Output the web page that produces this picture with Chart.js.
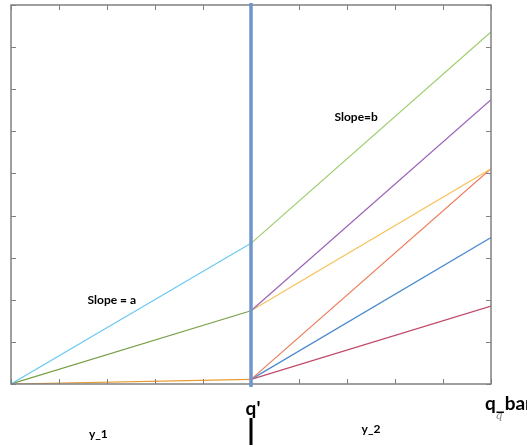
<!DOCTYPE html>
<html>
<head>
<meta charset="utf-8">
<script src="https://cdn.jsdelivr.net/npm/chart.js@4.4.0/dist/chart.umd.min.js"></script>
<style>
  html, body { margin: 0; padding: 0; background: #fff; }
  #wrap { width: 527px; height: 447px; position: relative; }
</style>
</head>
<body>
<div id="wrap"><canvas id="myChart"></canvas></div>
<script>
// x positions: origin, the kink at q', the end q_bar
const qStart = 0, qKink = 5, qEnd = 10;

// values at the kink (left pieces end here) and at the right edge
const skyLeft = [0, 3.34];
const greenRight = [3.34, 8.36];
const oliveLeft = [0, 1.74];
const purpleRight = [1.74, 6.75];
const yellowRight = [1.74, 5.11];
const orangeLeft = [0, 0.11];
const redRight = [0.11, 5.11];
const blueRight = [0.11, 3.48];
const crimsonRight = [0.11, 1.85];

const xTicks = [0, 1, 2, 3, 4, 5, 6, 7, 8, 9, 10];
const yTicks = [0, 1, 2, 3, 4, 5, 6, 7, 8, 9];

const slopeLabels = ['Slope = a', 'Slope=b'];
const axisLabels = ["q'", 'q_bar', 'y_1', 'y_2'];

function seg(vals, left) {
    return left
        ? [{ x: qStart, y: vals[0] }, { x: qKink, y: vals[1] }]
        : [{ x: qKink, y: vals[0] }, { x: qEnd, y: vals[1] }];
}

function line(vals, left, color) {
    return {
        data: seg(vals, left),
        borderColor: color,
        borderWidth: 1.2,
        pointRadius: 0,
        tension: 0,
        fill: false
    };
}

const data = {
    datasets: [
        line(skyLeft, true, '#6ccaf2'),
        line(greenRight, false, '#9ccc6a'),
        line(oliveLeft, true, '#78a048'),
        line(purpleRight, false, '#9b62b8'),
        line(yellowRight, false, '#f7c25c'),
        line(orangeLeft, true, '#e89a30'),
        line(redRight, false, '#ec7a5a'),
        line(blueRight, false, '#4a8ad0'),
        line(crimsonRight, false, '#c04a68')
    ]
};

// frame with inward ticks, q' marker and the text labels
const decor = {
    id: 'decor',
    afterDatasetsDraw(chart) {
        const { ctx, chartArea: { left, right, top, bottom }, scales: { x, y } } = chart;
        ctx.save();
        ctx.strokeStyle = '#808080';
        ctx.lineWidth = 1.5;
        ctx.strokeRect(left, top, right - left, bottom - top);
        ctx.lineWidth = 1;
        ctx.beginPath();
        xTicks.forEach(v => {
            const px = Math.round(x.getPixelForValue(v)) + 0.5;
            ctx.moveTo(px, bottom); ctx.lineTo(px, bottom - 5);
            ctx.moveTo(px, top); ctx.lineTo(px, top + 5);
        });
        yTicks.forEach(v => {
            const py = Math.round(y.getPixelForValue(v)) + 0.5;
            ctx.moveTo(left, py); ctx.lineTo(left + 5, py);
            ctx.moveTo(right, py); ctx.lineTo(right - 5, py);
        });
        ctx.stroke();

        // q' vertical line
        const kx = x.getPixelForValue(qKink);
        ctx.strokeStyle = '#6f96cc';
        ctx.lineWidth = 3.5;
        ctx.beginPath();
        ctx.moveTo(kx, top - 2);
        ctx.lineTo(kx, bottom + 3);
        ctx.stroke();

        ctx.fillStyle = '#000';
        ctx.textAlign = 'center';
        ctx.textBaseline = 'middle';
        ctx.font = 'bold 12px Lato';
        ctx.fillText(slopeLabels[0], x.getPixelForValue(2.1), y.getPixelForValue(2.0));
        ctx.fillText(slopeLabels[1], x.getPixelForValue(7.19), y.getPixelForValue(6.34));

        // below the axis
        ctx.font = 'bold 19px Lato';
        ctx.fillText(axisLabels[0], kx + 2, bottom + 25);
        ctx.textAlign = 'left';
        ctx.fillText(axisLabels[1], right - 6, bottom + 20);
        ctx.textAlign = 'center';
        ctx.font = 'bold 12px Lato';
        ctx.fillText(axisLabels[2], x.getPixelForValue(1.82), bottom + 50);
        ctx.fillText(axisLabels[3], x.getPixelForValue(7.5), bottom + 45);

        ctx.fillStyle = '#888';
        ctx.font = 'italic 11px "DejaVu Serif"';
        ctx.fillText('q\u0304', right + 8, bottom + 32);

        ctx.fillStyle = '#000';
        ctx.fillRect(kx - 1.5, bottom + 34, 3, 27);
        ctx.restore();
    }
};

new Chart('myChart', {
    type: 'line',
    data: data,
    options: {
        maintainAspectRatio: false,
        responsive: true,
        animation: false,
        plugins: { legend: { display: false }, tooltip: { enabled: false } },
        layout: { padding: { left: 11, top: 5, right: 36, bottom: 63 } },
        scales: {
            x: { type: 'linear', min: qStart, max: qEnd, display: false },
            y: { type: 'linear', min: 0, max: 9, display: false }
        }
    },
    plugins: [decor]
});
</script>
</body>
</html>
